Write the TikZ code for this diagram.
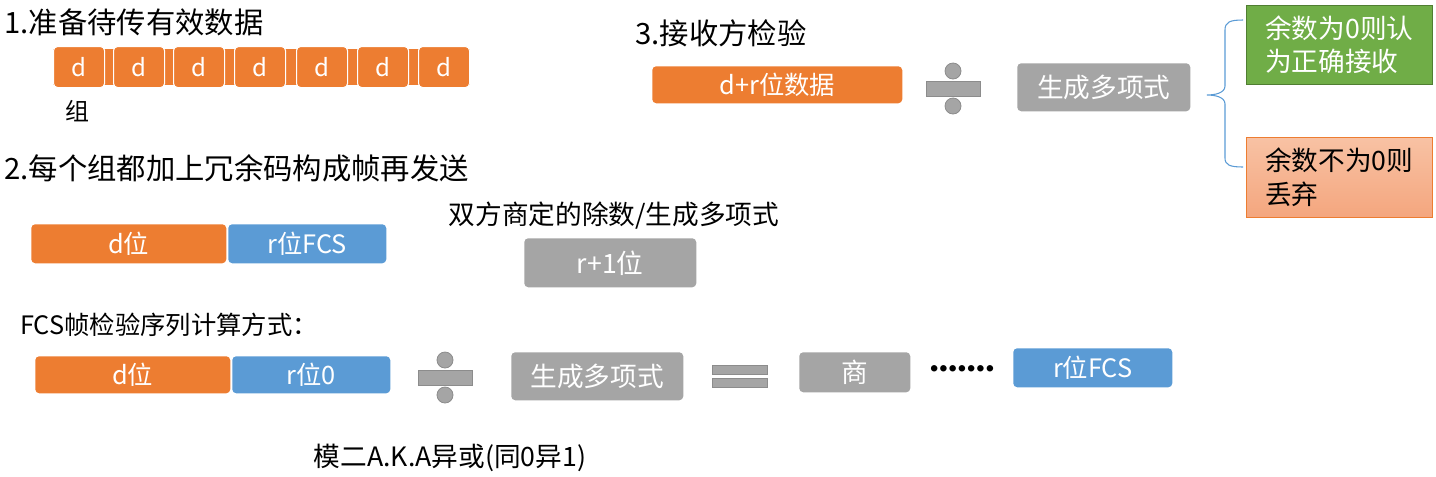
\documentclass[tikz,border=0pt]{standalone}
\usepackage{fontspec}
\setmainfont{Noto Sans CJK SC}
\newfontfamily\latfont{Carlito}
\usetikzlibrary{positioning}
\definecolor{dorange}{HTML}{ED7D31}
\definecolor{dblue}{HTML}{5B9BD5}
\definecolor{dgray}{HTML}{A5A5A5}
\definecolor{lgray}{HTML}{8C8C8C}
\definecolor{dgreen}{HTML}{70AD47}
\definecolor{lgreen}{HTML}{507E32}
\definecolor{salmontop}{HTML}{F8C2A4}
\definecolor{salmonbot}{HTML}{F4A67E}
\tikzset{
    sz/.style 2 args={minimum width=#1*0.75pt, minimum height=#2*0.75pt},
    box/.style={rectangle, rounded corners=3pt, inner sep=0pt, anchor=north west,
        text=white, font=\fontsize{19}{22}\selectfont},
    orangebox/.style={box, fill=dorange},
    bluebox/.style={box, fill=dblue},
    graybox/.style={box, fill=dgray, font=\fontsize{20}{24}\selectfont},
    title/.style={anchor=west, inner sep=0pt, font=\fontsize{22}{26}\selectfont},
    plain/.style={inner sep=0pt, font=\fontsize{20}{24}\selectfont},
    symb/.style={fill=dgray, draw=lgray, line width=0.6pt},
    brace/.style={draw=dblue, line width=0.8pt}
}
\newcommand{\divsign}[2]{%
    \draw[symb] (#1-27,#2-7) rectangle (#1+27,#2+8);
    \draw[symb] (#1,#2-17) circle (8*0.75pt);
    \draw[symb] (#1,#2+18) circle (8*0.75pt);
}

\begin{document}
\begin{tikzpicture}[x=0.75pt, y=-0.75pt]
    \useasboundingbox (0,0) rectangle (1436,476);

    % 1. data groups
    \node[title] (t1) at (4,22) {1.准备待传有效数据};
    \fill[dorange] (53,49) rectangle (470,85);
    \foreach \i/\x in {0/53,1/113,2/173,3/234,4/296,5/357,6/418} {
        \node[orangebox, draw=white, line width=0.8pt, sz={51}{41},
            font=\fontsize{18}{20}\selectfont] (d\i) at (\x,46) {d};
    }
    \node[plain, font=\fontsize{18}{22}\selectfont] (grp) at (77,111) {组};

    % 2. frame
    \node[title] (t2) at (4,168) {2.每个组都加上冗余码构成帧再发送};
    \node[orangebox, sz={195}{39}] (dbits) at (31,224) {d位};
    \node[bluebox, sz={158}{39}] (fcsbits) at (228,224) {r位FCS};
    \node[plain] (divtxt) at (614,216) {双方商定的除数/生成多项式};
    \node[graybox, sz={172}{49}] (gpoly) at (524,238) {r+1位};

    % FCS calculation
    \node[plain, anchor=west, font=\fontsize{19}{22}\selectfont] (fcstxt) at (20,325) {FCS帧检验序列计算方式：};
    \node[orangebox, sz={195}{37}] (d4) at (35,356) {d位};
    \node[bluebox, sz={158}{37}] (r4) at (232,356) {r位0};
    \divsign{445}{377}
    \node[graybox, sz={172}{48}] (gen4) at (511,352) {生成多项式};
    \draw[symb] (712,365) rectangle (767,374);
    \draw[symb] (712,378) rectangle (767,387);
    \node[graybox, sz={111}{40}] (quot) at (799,352) {商};
    \node[plain, font=\latfont\bfseries\fontsize{26}{28}\selectfont] (dots) at (962,372) {·······};
    \node[bluebox, sz={159}{39}] (fcs4) at (1013,348) {r位FCS};
    \node[plain] (mod2) at (450,458) {模二A.K.A异或(同0异1)};

    % 3. receiver check
    \node[title] (t3) at (635,33) {3.接收方检验};
    \node[orangebox, sz={250}{37}] (drdata) at (652,66) {d+r位数据};
    \divsign{953}{88}
    \node[graybox, sz={173}{48}] (gen3) at (1017,63) {生成多项式};
    \node[box, rounded corners=0pt, fill=dgreen, draw=lgreen, sz={186}{79}, align=left,
        font=\fontsize{20}{25}\selectfont] (ok) at (1246,5) {余数为0则认\\为正确接收};
    \node[box, rounded corners=0pt, top color=salmontop, bottom color=salmonbot, draw=dorange,
        sz={186}{80}, align=left, text=black, font=\fontsize{20}{25}\selectfont] (bad) at (1246,137) {余数不为0则\\丢弃};

    \coordinate (bt) at (1243,20);
    \coordinate (bm) at (1207,95);
    \coordinate (bb) at (1243,167);
    \draw[brace] (bt) .. controls (1230,20) and (1225,22) .. (1225,30) -- (1225,86)
        .. controls (1225,93) and (1215,95) .. (bm)
        .. controls (1215,95) and (1225,97) .. (1225,104) -- (1225,158)
        .. controls (1225,165) and (1230,167) .. (bb);
\end{tikzpicture}
\end{document}
